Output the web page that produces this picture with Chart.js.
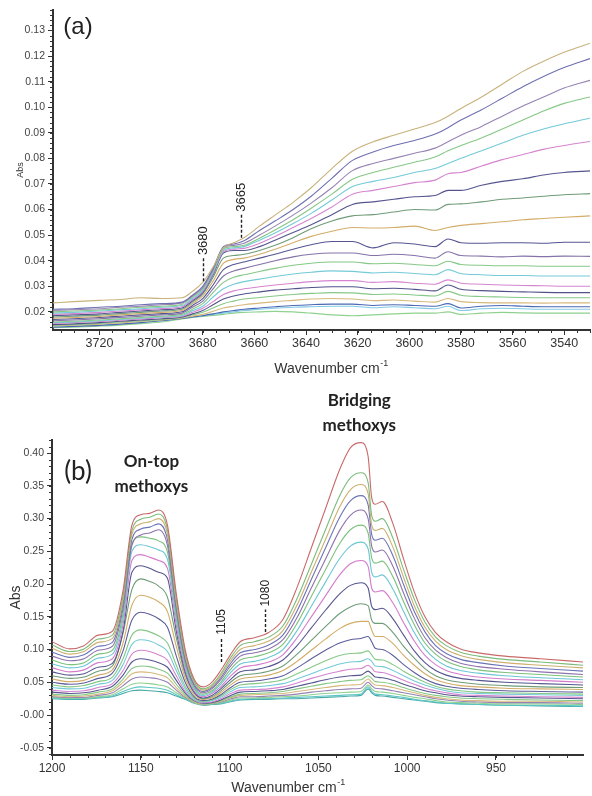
<!DOCTYPE html>
<html>
<head>
<meta charset="utf-8">
<title>IR spectra</title>
<script src="https://cdn.jsdelivr.net/npm/chart.js@4.4.1/dist/chart.umd.min.js"></script>
<style>
  body { margin: 0; background: #fff; }
  #wrap { position: relative; width: 592px; height: 796px; }
  canvas { position: absolute; left: 0; }
</style>
</head>
<body>
<div id="wrap">
  <canvas id="chartA" width="592" height="392" style="top:0"></canvas>
  <canvas id="chartB" width="592" height="404" style="top:392px"></canvas>
</div>
<script>
// ---- panel (a): OH stretching region ----
const waveA = [3738, 3730, 3720, 3712, 3704, 3696, 3688, 3684, 3680, 3676, 3672, 3668, 3664, 3658, 3652, 3645, 3638, 3630, 3622, 3614, 3606, 3598, 3590, 3585, 3580, 3572, 3564, 3556, 3548, 3540, 3530];
const ticksAX = [3720, 3700, 3680, 3660, 3640, 3620, 3600, 3580, 3560, 3540];
const ticksAY = [0.02, 0.03, 0.04, 0.05, 0.06, 0.07, 0.08, 0.09, 0.10, 0.11, 0.12, 0.13];

const a1 = [0.0235, 0.0240, 0.0245, 0.0248, 0.0255, 0.0252, 0.0255, 0.0280, 0.0315, 0.0375, 0.0450, 0.0470, 0.0490, 0.0535, 0.0578, 0.0628, 0.0685, 0.0760, 0.0828, 0.0865, 0.0890, 0.0915, 0.0940, 0.0965, 0.0995, 0.1040, 0.1090, 0.1140, 0.1180, 0.1215, 0.1250];
const a2 = [0.0210, 0.0212, 0.0218, 0.0222, 0.0228, 0.0232, 0.0238, 0.0265, 0.0300, 0.0370, 0.0455, 0.0465, 0.0478, 0.0518, 0.0555, 0.0600, 0.0652, 0.0722, 0.0792, 0.0825, 0.0850, 0.0870, 0.0895, 0.0920, 0.0950, 0.0990, 0.1035, 0.1080, 0.1120, 0.1155, 0.1190];
const a3 = [0.0205, 0.0208, 0.0212, 0.0218, 0.0222, 0.0228, 0.0235, 0.0262, 0.0295, 0.0365, 0.0450, 0.0460, 0.0468, 0.0500, 0.0535, 0.0578, 0.0625, 0.0685, 0.0752, 0.0780, 0.0800, 0.0820, 0.0840, 0.0865, 0.0890, 0.0925, 0.0965, 0.1005, 0.1040, 0.1075, 0.1105];
const a4 = [0.0200, 0.0203, 0.0207, 0.0212, 0.0218, 0.0222, 0.0230, 0.0258, 0.0290, 0.0360, 0.0445, 0.0455, 0.0460, 0.0488, 0.0520, 0.0560, 0.0605, 0.0660, 0.0718, 0.0745, 0.0765, 0.0785, 0.0805, 0.0830, 0.0850, 0.0880, 0.0915, 0.0950, 0.0985, 0.1015, 0.1040];
const a5 = [0.0195, 0.0198, 0.0203, 0.0208, 0.0212, 0.0218, 0.0225, 0.0252, 0.0285, 0.0355, 0.0440, 0.0450, 0.0455, 0.0480, 0.0508, 0.0545, 0.0585, 0.0637, 0.0690, 0.0710, 0.0725, 0.0745, 0.0760, 0.0780, 0.0800, 0.0830, 0.0860, 0.0890, 0.0915, 0.0935, 0.0957];
const a6 = [0.0190, 0.0193, 0.0198, 0.0203, 0.0208, 0.0213, 0.0220, 0.0248, 0.0280, 0.0350, 0.0435, 0.0445, 0.0448, 0.0468, 0.0495, 0.0530, 0.0565, 0.0610, 0.0660, 0.0675, 0.0690, 0.0705, 0.0715, 0.0740, 0.0745, 0.0770, 0.0795, 0.0815, 0.0835, 0.0850, 0.0866];
const a7 = [0.0185, 0.0188, 0.0192, 0.0198, 0.0203, 0.0208, 0.0215, 0.0243, 0.0275, 0.0345, 0.0430, 0.0440, 0.0440, 0.0455, 0.0480, 0.0510, 0.0540, 0.0580, 0.0620, 0.0630, 0.0640, 0.0650, 0.0655, 0.0675, 0.0675, 0.0695, 0.0710, 0.0720, 0.0735, 0.0745, 0.0751];
const a8 = [0.0180, 0.0183, 0.0187, 0.0193, 0.0198, 0.0203, 0.0210, 0.0238, 0.0270, 0.0335, 0.0410, 0.0420, 0.0425, 0.0440, 0.0460, 0.0490, 0.0525, 0.0555, 0.0575, 0.0580, 0.0590, 0.0600, 0.0598, 0.0620, 0.0622, 0.0630, 0.0640, 0.0645, 0.0652, 0.0658, 0.0662];
const a9 = [0.0175, 0.0178, 0.0182, 0.0188, 0.0193, 0.0198, 0.0205, 0.0232, 0.0262, 0.0320, 0.0390, 0.0405, 0.0410, 0.0425, 0.0445, 0.0470, 0.0495, 0.0515, 0.0530, 0.0528, 0.0530, 0.0535, 0.0518, 0.0530, 0.0538, 0.0545, 0.0552, 0.0560, 0.0565, 0.0570, 0.0575];
const a10 = [0.0170, 0.0173, 0.0178, 0.0183, 0.0188, 0.0193, 0.0200, 0.0225, 0.0252, 0.0305, 0.0365, 0.0385, 0.0395, 0.0410, 0.0425, 0.0445, 0.0462, 0.0475, 0.0475, 0.0450, 0.0470, 0.0465, 0.0455, 0.0485, 0.0470, 0.0468, 0.0470, 0.0470, 0.0468, 0.0472, 0.0472];
const a11 = [0.0165, 0.0168, 0.0173, 0.0178, 0.0183, 0.0188, 0.0195, 0.0218, 0.0242, 0.0290, 0.0340, 0.0360, 0.0370, 0.0385, 0.0400, 0.0415, 0.0425, 0.0430, 0.0430, 0.0420, 0.0425, 0.0420, 0.0410, 0.0435, 0.0420, 0.0418, 0.0415, 0.0418, 0.0416, 0.0418, 0.0417];
const a12 = [0.0160, 0.0163, 0.0168, 0.0173, 0.0178, 0.0183, 0.0190, 0.0210, 0.0232, 0.0275, 0.0315, 0.0335, 0.0345, 0.0358, 0.0370, 0.0382, 0.0390, 0.0395, 0.0395, 0.0388, 0.0390, 0.0385, 0.0380, 0.0398, 0.0385, 0.0382, 0.0380, 0.0380, 0.0378, 0.0378, 0.0378];
const a13 = [0.0158, 0.0160, 0.0165, 0.0170, 0.0175, 0.0180, 0.0186, 0.0204, 0.0222, 0.0258, 0.0290, 0.0308, 0.0318, 0.0328, 0.0338, 0.0348, 0.0355, 0.0360, 0.0358, 0.0352, 0.0355, 0.0350, 0.0345, 0.0365, 0.0350, 0.0345, 0.0342, 0.0342, 0.0340, 0.0340, 0.0340];
const a14 = [0.0155, 0.0158, 0.0162, 0.0167, 0.0172, 0.0177, 0.0183, 0.0198, 0.0214, 0.0240, 0.0268, 0.0282, 0.0290, 0.0298, 0.0305, 0.0312, 0.0318, 0.0322, 0.0322, 0.0315, 0.0318, 0.0312, 0.0308, 0.0325, 0.0312, 0.0308, 0.0305, 0.0303, 0.0302, 0.0300, 0.0300];
const a15 = [0.0150, 0.0153, 0.0158, 0.0163, 0.0168, 0.0173, 0.0180, 0.0192, 0.0205, 0.0228, 0.0250, 0.0262, 0.0270, 0.0278, 0.0285, 0.0290, 0.0295, 0.0298, 0.0298, 0.0290, 0.0292, 0.0288, 0.0282, 0.0305, 0.0288, 0.0283, 0.0280, 0.0278, 0.0276, 0.0275, 0.0275];
const a16 = [0.0148, 0.0150, 0.0155, 0.0160, 0.0165, 0.0170, 0.0178, 0.0188, 0.0198, 0.0215, 0.0232, 0.0242, 0.0250, 0.0256, 0.0262, 0.0268, 0.0272, 0.0275, 0.0274, 0.0268, 0.0270, 0.0266, 0.0262, 0.0280, 0.0265, 0.0260, 0.0258, 0.0256, 0.0255, 0.0255, 0.0255];
const a17 = [0.0145, 0.0148, 0.0152, 0.0157, 0.0162, 0.0168, 0.0176, 0.0183, 0.0190, 0.0202, 0.0215, 0.0222, 0.0228, 0.0234, 0.0240, 0.0245, 0.0250, 0.0252, 0.0250, 0.0244, 0.0246, 0.0242, 0.0238, 0.0252, 0.0240, 0.0236, 0.0235, 0.0235, 0.0234, 0.0235, 0.0235];
const a18 = [0.0140, 0.0143, 0.0147, 0.0152, 0.0158, 0.0165, 0.0174, 0.0180, 0.0185, 0.0192, 0.0200, 0.0205, 0.0210, 0.0215, 0.0220, 0.0225, 0.0228, 0.0230, 0.0230, 0.0225, 0.0228, 0.0225, 0.0222, 0.0232, 0.0215, 0.0222, 0.0225, 0.0222, 0.0220, 0.0220, 0.0220];
const a19 = [0.0142, 0.0145, 0.0148, 0.0153, 0.0158, 0.0165, 0.0175, 0.0180, 0.0185, 0.0190, 0.0195, 0.0200, 0.0205, 0.0210, 0.0214, 0.0218, 0.0220, 0.0222, 0.0222, 0.0216, 0.0220, 0.0216, 0.0212, 0.0222, 0.0205, 0.0212, 0.0214, 0.0212, 0.0210, 0.0210, 0.0210];
const a20 = [0.0138, 0.0140, 0.0144, 0.0148, 0.0154, 0.0160, 0.0172, 0.0178, 0.0182, 0.0186, 0.0190, 0.0195, 0.0198, 0.0200, 0.0202, 0.0200, 0.0195, 0.0188, 0.0185, 0.0188, 0.0192, 0.0195, 0.0195, 0.0200, 0.0190, 0.0195, 0.0198, 0.0196, 0.0195, 0.0195, 0.0195];

const spectraA = [a1, a2, a3, a4, a5, a6, a7, a8, a9, a10, a11, a12, a13, a14, a15, a16, a17, a18, a19, a20];
const colorsA = ['#c8b27a', '#6f6fb2', '#9683b3', '#86c886', '#74cad8', '#d585cf', '#55558f', '#6f9c78', '#d3ad68', '#555593',
                 '#8472a8', '#86c886', '#74cad8', '#d585cf', '#52528a', '#86c886', '#d6b97c', '#4a68b5', '#84cbe3', '#8fd18f'];
const peaksA = [3680, 3665];

// ---- panel (b): C-O stretching region ----
const waveB = [1200, 1190, 1182, 1174, 1166, 1160, 1155, 1150, 1145, 1140, 1135, 1130, 1125, 1120, 1115, 1110, 1105, 1100, 1094, 1086, 1078, 1070, 1062, 1054, 1046, 1038, 1032, 1026, 1022, 1020, 1018, 1014, 1008, 1002, 996, 990, 984, 978, 970, 960, 945, 925, 901];
const ticksBX = [1200, 1150, 1100, 1050, 1000, 950];
const ticksBY = [-0.05, 0, 0.05, 0.10, 0.15, 0.20, 0.25, 0.30, 0.35, 0.40];

const b1 = [0.112, 0.101, 0.106, 0.122, 0.128, 0.190, 0.290, 0.306, 0.308, 0.313, 0.290, 0.185, 0.100, 0.055, 0.043, 0.050, 0.068, 0.090, 0.112, 0.118, 0.126, 0.146, 0.195, 0.255, 0.315, 0.375, 0.408, 0.416, 0.395, 0.332, 0.322, 0.326, 0.292, 0.238, 0.188, 0.150, 0.126, 0.112, 0.101, 0.095, 0.090, 0.086, 0.081];
const b2 = [0.107, 0.097, 0.101, 0.116, 0.122, 0.182, 0.282, 0.299, 0.302, 0.307, 0.283, 0.178, 0.095, 0.052, 0.040, 0.046, 0.063, 0.085, 0.106, 0.112, 0.119, 0.136, 0.178, 0.230, 0.283, 0.335, 0.362, 0.370, 0.355, 0.305, 0.296, 0.300, 0.270, 0.222, 0.177, 0.142, 0.119, 0.106, 0.096, 0.090, 0.085, 0.081, 0.076];
const b3 = [0.102, 0.093, 0.097, 0.111, 0.117, 0.176, 0.276, 0.292, 0.295, 0.300, 0.276, 0.172, 0.091, 0.050, 0.038, 0.044, 0.060, 0.081, 0.100, 0.106, 0.113, 0.129, 0.168, 0.218, 0.268, 0.318, 0.344, 0.352, 0.338, 0.290, 0.282, 0.285, 0.256, 0.210, 0.167, 0.134, 0.113, 0.100, 0.091, 0.085, 0.080, 0.076, 0.072];
const b4 = [0.096, 0.088, 0.092, 0.105, 0.111, 0.170, 0.268, 0.284, 0.287, 0.292, 0.268, 0.166, 0.087, 0.047, 0.036, 0.042, 0.057, 0.077, 0.095, 0.100, 0.107, 0.122, 0.159, 0.207, 0.255, 0.302, 0.327, 0.335, 0.321, 0.276, 0.267, 0.270, 0.243, 0.199, 0.158, 0.127, 0.106, 0.094, 0.085, 0.080, 0.075, 0.071, 0.067];
const b5 = [0.090, 0.083, 0.086, 0.099, 0.105, 0.163, 0.259, 0.275, 0.278, 0.283, 0.259, 0.160, 0.083, 0.045, 0.034, 0.040, 0.054, 0.073, 0.090, 0.095, 0.101, 0.115, 0.149, 0.194, 0.238, 0.282, 0.305, 0.313, 0.300, 0.258, 0.249, 0.252, 0.227, 0.186, 0.148, 0.118, 0.099, 0.088, 0.079, 0.074, 0.070, 0.066, 0.062];
const b6 = [0.084, 0.077, 0.080, 0.093, 0.099, 0.155, 0.262, 0.272, 0.270, 0.266, 0.249, 0.153, 0.079, 0.042, 0.032, 0.037, 0.050, 0.068, 0.084, 0.089, 0.095, 0.108, 0.140, 0.181, 0.222, 0.262, 0.283, 0.290, 0.278, 0.240, 0.232, 0.235, 0.211, 0.173, 0.138, 0.110, 0.093, 0.082, 0.074, 0.069, 0.065, 0.062, 0.058];
const b7 = [0.078, 0.072, 0.075, 0.087, 0.093, 0.147, 0.250, 0.260, 0.257, 0.252, 0.238, 0.146, 0.075, 0.040, 0.030, 0.035, 0.047, 0.063, 0.078, 0.082, 0.088, 0.100, 0.129, 0.166, 0.203, 0.239, 0.258, 0.264, 0.254, 0.218, 0.211, 0.214, 0.192, 0.158, 0.126, 0.101, 0.085, 0.075, 0.068, 0.064, 0.060, 0.057, 0.054];
const b8 = [0.072, 0.066, 0.069, 0.080, 0.086, 0.138, 0.236, 0.245, 0.241, 0.236, 0.224, 0.137, 0.070, 0.037, 0.028, 0.033, 0.043, 0.058, 0.072, 0.076, 0.081, 0.092, 0.118, 0.150, 0.182, 0.214, 0.231, 0.236, 0.227, 0.194, 0.188, 0.190, 0.171, 0.141, 0.113, 0.091, 0.077, 0.068, 0.062, 0.058, 0.055, 0.053, 0.050];
const b9 = [0.066, 0.061, 0.063, 0.073, 0.079, 0.128, 0.218, 0.228, 0.224, 0.218, 0.209, 0.128, 0.066, 0.035, 0.026, 0.030, 0.040, 0.053, 0.066, 0.069, 0.074, 0.084, 0.106, 0.133, 0.160, 0.185, 0.198, 0.202, 0.194, 0.166, 0.161, 0.163, 0.147, 0.122, 0.098, 0.080, 0.068, 0.061, 0.056, 0.053, 0.050, 0.048, 0.046];
const b10 = [0.060, 0.056, 0.058, 0.067, 0.075, 0.125, 0.192, 0.208, 0.204, 0.197, 0.180, 0.118, 0.062, 0.034, 0.025, 0.028, 0.037, 0.049, 0.060, 0.063, 0.067, 0.075, 0.093, 0.114, 0.135, 0.155, 0.165, 0.170, 0.167, 0.145, 0.140, 0.140, 0.126, 0.105, 0.087, 0.071, 0.060, 0.054, 0.050, 0.047, 0.045, 0.043, 0.042];
const b11 = [0.055, 0.051, 0.053, 0.061, 0.069, 0.110, 0.168, 0.183, 0.180, 0.173, 0.158, 0.105, 0.056, 0.031, 0.024, 0.026, 0.034, 0.045, 0.055, 0.058, 0.061, 0.068, 0.082, 0.099, 0.116, 0.132, 0.140, 0.143, 0.143, 0.130, 0.120, 0.120, 0.109, 0.091, 0.076, 0.063, 0.054, 0.049, 0.045, 0.043, 0.041, 0.040, 0.039];
const b12 = [0.050, 0.047, 0.049, 0.056, 0.064, 0.098, 0.145, 0.157, 0.154, 0.147, 0.134, 0.090, 0.050, 0.028, 0.022, 0.024, 0.031, 0.041, 0.050, 0.052, 0.055, 0.060, 0.072, 0.086, 0.099, 0.110, 0.115, 0.117, 0.120, 0.112, 0.102, 0.100, 0.091, 0.077, 0.065, 0.055, 0.048, 0.044, 0.041, 0.039, 0.037, 0.036, 0.035];
const b13 = [0.046, 0.043, 0.045, 0.051, 0.058, 0.086, 0.122, 0.130, 0.127, 0.121, 0.110, 0.076, 0.044, 0.026, 0.021, 0.023, 0.029, 0.038, 0.046, 0.048, 0.050, 0.054, 0.063, 0.073, 0.083, 0.091, 0.094, 0.095, 0.098, 0.092, 0.085, 0.084, 0.077, 0.067, 0.058, 0.050, 0.044, 0.040, 0.037, 0.035, 0.034, 0.033, 0.032];
const b14 = [0.042, 0.040, 0.041, 0.047, 0.053, 0.077, 0.108, 0.115, 0.113, 0.107, 0.097, 0.068, 0.040, 0.024, 0.020, 0.022, 0.027, 0.035, 0.042, 0.043, 0.045, 0.048, 0.055, 0.063, 0.071, 0.078, 0.081, 0.082, 0.086, 0.082, 0.075, 0.074, 0.068, 0.060, 0.052, 0.046, 0.041, 0.037, 0.034, 0.033, 0.032, 0.031, 0.030];
const b15 = [0.038, 0.036, 0.037, 0.042, 0.048, 0.068, 0.093, 0.099, 0.097, 0.092, 0.084, 0.060, 0.036, 0.023, 0.019, 0.020, 0.025, 0.032, 0.038, 0.039, 0.040, 0.043, 0.049, 0.056, 0.062, 0.067, 0.070, 0.071, 0.076, 0.072, 0.066, 0.065, 0.060, 0.053, 0.047, 0.041, 0.037, 0.034, 0.031, 0.030, 0.029, 0.028, 0.027];
const b16 = [0.035, 0.033, 0.034, 0.038, 0.044, 0.061, 0.081, 0.086, 0.084, 0.080, 0.073, 0.053, 0.034, 0.022, 0.018, 0.019, 0.023, 0.029, 0.035, 0.036, 0.037, 0.039, 0.044, 0.049, 0.054, 0.058, 0.060, 0.061, 0.067, 0.063, 0.058, 0.057, 0.053, 0.047, 0.042, 0.037, 0.034, 0.031, 0.029, 0.028, 0.027, 0.026, 0.025];
const b17 = [0.032, 0.030, 0.031, 0.035, 0.040, 0.055, 0.071, 0.075, 0.074, 0.070, 0.064, 0.047, 0.031, 0.021, 0.018, 0.019, 0.022, 0.027, 0.032, 0.033, 0.034, 0.036, 0.040, 0.044, 0.048, 0.051, 0.053, 0.054, 0.060, 0.056, 0.051, 0.050, 0.047, 0.042, 0.037, 0.033, 0.030, 0.028, 0.026, 0.025, 0.024, 0.023, 0.022];
const b18 = [0.030, 0.028, 0.029, 0.032, 0.037, 0.050, 0.063, 0.066, 0.065, 0.062, 0.057, 0.042, 0.029, 0.020, 0.017, 0.018, 0.021, 0.026, 0.030, 0.031, 0.032, 0.033, 0.036, 0.039, 0.042, 0.045, 0.046, 0.047, 0.055, 0.050, 0.046, 0.045, 0.042, 0.038, 0.034, 0.030, 0.027, 0.025, 0.023, 0.022, 0.021, 0.021, 0.020];
const b19 = [0.028, 0.027, 0.027, 0.030, 0.034, 0.045, 0.055, 0.058, 0.057, 0.055, 0.050, 0.038, 0.027, 0.020, 0.017, 0.018, 0.020, 0.024, 0.028, 0.028, 0.029, 0.030, 0.032, 0.035, 0.037, 0.039, 0.040, 0.041, 0.050, 0.045, 0.041, 0.040, 0.037, 0.034, 0.031, 0.028, 0.025, 0.023, 0.021, 0.020, 0.019, 0.019, 0.018];
const b20 = [0.027, 0.026, 0.026, 0.028, 0.031, 0.040, 0.047, 0.049, 0.048, 0.046, 0.043, 0.034, 0.026, 0.019, 0.016, 0.017, 0.019, 0.022, 0.026, 0.026, 0.027, 0.028, 0.029, 0.031, 0.033, 0.034, 0.035, 0.036, 0.046, 0.040, 0.036, 0.035, 0.033, 0.030, 0.027, 0.025, 0.022, 0.020, 0.019, 0.018, 0.017, 0.017, 0.016];
const b21 = [0.026, 0.025, 0.025, 0.027, 0.029, 0.036, 0.041, 0.043, 0.042, 0.041, 0.038, 0.031, 0.025, 0.019, 0.016, 0.017, 0.018, 0.021, 0.024, 0.025, 0.025, 0.026, 0.027, 0.028, 0.029, 0.030, 0.031, 0.032, 0.043, 0.036, 0.032, 0.031, 0.029, 0.027, 0.024, 0.022, 0.020, 0.018, 0.017, 0.016, 0.015, 0.015, 0.014];
const b22 = [0.025, 0.024, 0.024, 0.026, 0.028, 0.033, 0.037, 0.038, 0.037, 0.036, 0.034, 0.029, 0.024, 0.018, 0.015, 0.016, 0.017, 0.020, 0.023, 0.024, 0.024, 0.025, 0.025, 0.026, 0.027, 0.028, 0.029, 0.030, 0.040, 0.034, 0.030, 0.029, 0.027, 0.025, 0.023, 0.021, 0.019, 0.018, 0.017, 0.016, 0.015, 0.014, 0.013];

const spectraB = [b1, b2, b3, b4, b5, b6, b7, b8, b9, b10, b11, b12, b13, b14, b15, b16, b17, b18, b19, b20, b21, b22];
const colorsB = ['#c96a6a', '#7dbb7d', '#cdb070', '#6b74b8', '#8f72ad', '#7cc27c', '#6cc6d4', '#d47ccc', '#55558f', '#6f9c78', '#d3ad68',
                 '#5d5d9c', '#86c886', '#74cad8', '#d585cf', '#55558f', '#86c886', '#d6b97c', '#9683b3', '#8fd18f', '#5cc6c6', '#48a8a8'];
const peaksB = [1105, 1080];

const SANS = '"Liberation Sans", Arial, sans-serif';
const AXIS = '#333';

function toDatasets(waves, spectra, colors) {
  return spectra.map((ys, i) => ({
    data: waves.map((w, j) => ({ x: w, y: ys[j] })),
    borderColor: colors[i],
    borderWidth: 1.1,
    pointRadius: 0,
    cubicInterpolationMode: 'monotone',
    fill: false
  }));
}

// small unlabelled ticks between the numbered ones
const minorTicks = {
  id: 'minorTicks',
  afterDraw(chart, args, opts) {
    const { ctx, chartArea, scales: { x, y } } = chart;
    ctx.save();
    ctx.strokeStyle = AXIS;
    ctx.lineWidth = 1;
    ctx.beginPath();
    const nx = Math.round((x.max - x.min) / opts.xStep);
    const x0 = Math.ceil(x.min / opts.xStep) * opts.xStep;
    for (let i = 0; i <= nx; i++) {
      const v = x0 + i * opts.xStep;
      if (v > x.max) break;
      const px = Math.round(x.getPixelForValue(v)) + 0.5;
      ctx.moveTo(px, chartArea.bottom);
      ctx.lineTo(px, chartArea.bottom + 3);
    }
    const ny = Math.round((y.max - y.min) / opts.yStep);
    const y0 = Math.ceil(y.min / opts.yStep) * opts.yStep;
    for (let i = 0; i <= ny; i++) {
      const v = y0 + i * opts.yStep;
      if (v > y.max) break;
      const py = Math.round(y.getPixelForValue(v)) + 0.5;
      ctx.moveTo(chartArea.left, py);
      ctx.lineTo(chartArea.left - 3, py);
    }
    ctx.stroke();
    ctx.restore();
  }
};

// panel letter, band names, dashed peak markers and the x-axis title
const notes = {
  id: 'notes',
  afterDraw(chart, args, opts) {
    const { ctx, scales: { x, y } } = chart;
    ctx.save();
    ctx.fillStyle = '#222';
    ctx.textAlign = 'center';
    ctx.textBaseline = 'middle';
    ctx.font = opts.letterFont;
    ctx.fillText(opts.letter, opts.letterPos[0], opts.letterPos[1]);

    (opts.bands || []).forEach(b => {
      ctx.font = opts.bandFont;
      b.lines.forEach((t, i) => ctx.fillText(t, x.getPixelForValue(b.at), b.top + i * 25));
    });

    opts.marks.forEach(m => {
      const px = Math.round(x.getPixelForValue(m.at)) + 0.5;
      const yLow = y.getPixelForValue(m.from);
      const yHigh = y.getPixelForValue(m.to);
      ctx.strokeStyle = '#222';
      ctx.lineWidth = 1.4;
      ctx.setLineDash([3, 2]);
      ctx.beginPath();
      ctx.moveTo(px, yLow);
      ctx.lineTo(px, yHigh);
      ctx.stroke();
      ctx.setLineDash([]);
      ctx.save();
      ctx.translate(px, yHigh - 3);
      ctx.rotate(-Math.PI / 2);
      ctx.textAlign = 'left';
      ctx.font = opts.markFont;
      ctx.fillText(String(m.at), 0, 0);
      ctx.restore();
    });

    // "Wavenumber cm-1" with a raised exponent
    const main = 'Wavenumber cm', sup = '-1';
    ctx.font = '14px ' + SANS;
    const w1 = ctx.measureText(main).width;
    ctx.font = '9px ' + SANS;
    const w2 = ctx.measureText(sup).width;
    const start = opts.titlePos[0] - (w1 + w2) / 2;
    ctx.fillStyle = AXIS;
    ctx.textAlign = 'left';
    ctx.font = '14px ' + SANS;
    ctx.fillText(main, start, opts.titlePos[1]);
    ctx.font = '9px ' + SANS;
    ctx.fillText(sup, start + w1 + 0.5, opts.titlePos[1] - 5);
    ctx.restore();
  }
};

function axisX(min, max, tickList, height, size) {
  return {
    type: 'linear', reverse: true, min: min, max: max,
    afterFit: s => { s.height = height; },
    afterBuildTicks: s => { s.ticks = tickList.map(v => ({ value: v })); },
    border: { color: AXIS, width: 2 },
    grid: { drawOnChartArea: false, tickLength: 5, tickColor: AXIS },
    ticks: { autoSkip: false, maxRotation: 0, padding: 1, color: AXIS,
             font: { family: SANS, size: size }, callback: v => String(v) }
  };
}

function axisY(min, max, tickList, width, size, titleSize, titlePad, fmt) {
  return {
    min: min, max: max,
    afterFit: s => { s.width = width; },
    afterBuildTicks: s => { s.ticks = tickList.map(v => ({ value: v })); },
    border: { color: AXIS, width: 2 },
    grid: { drawOnChartArea: false, tickLength: 5, tickColor: AXIS },
    ticks: { autoSkip: false, padding: 3, color: '#444',
             font: { family: SANS, size: size }, callback: fmt },
    title: { display: true, text: 'Abs', color: AXIS, padding: { top: titlePad, bottom: 0 },
             font: { family: SANS, size: titleSize } }
  };
}

new Chart(document.getElementById('chartA'), {
  type: 'line',
  data: { datasets: toDatasets(waveA, spectraA, colorsA) },
  options: {
    responsive: false,
    animation: false,
    layout: { padding: { top: 10, right: 2, left: 0, bottom: 0 } },
    scales: {
      x: axisX(3530, 3738, ticksAX, 62, 12.5),
      y: axisY(0.0129, 0.138, ticksAY, 53, 10.5, 9, 15, v => v.toFixed(2))
    },
    plugins: {
      legend: { display: false },
      tooltip: { enabled: false },
      minorTicks: { xStep: 5, yStep: 0.002 },
      notes: {
        letter: '(a)', letterFont: '24px ' + SANS, letterPos: [78, 27],
        markFont: '13px ' + SANS,
        marks: [
          { at: peaksA[0], from: 0.0320, to: 0.0410 },
          { at: peaksA[1], from: 0.0490, to: 0.0580 }
        ],
        titlePos: [331, 369]
      }
    }
  },
  plugins: [minorTicks, notes]
});

new Chart(document.getElementById('chartB'), {
  type: 'line',
  data: { datasets: toDatasets(waveB, spectraB, colorsB) },
  options: {
    responsive: false,
    animation: false,
    layout: { padding: { top: 48, right: 9, left: 0, bottom: 0 } },
    scales: {
      x: axisX(901, 1200, ticksBX, 41, 12),
      y: axisY(-0.061, 0.42, ticksBY, 52, 10.5, 14, 8, v => Math.abs(v) < 1e-9 ? '-0.00' : v.toFixed(2))
    },
    plugins: {
      legend: { display: false },
      tooltip: { enabled: false },
      minorTicks: { xStep: 10, yStep: 0.01 },
      notes: {
        letter: '(b)', letterFont: '26px Lato, ' + SANS, letterPos: [78, 80],
        bandFont: 'bold 17px Lato, ' + SANS,
        bands: [
          { at: 1144, top: 70, lines: ['On-top', 'methoxys'] },
          { at: 1027, top: 9, lines: ['Bridging', 'methoxys'] }
        ],
        markFont: '12px ' + SANS,
        marks: [
          { at: peaksB[0], from: 0.081, to: 0.118 },
          { at: peaksB[1], from: 0.127, to: 0.161 }
        ],
        titlePos: [288, 396]
      }
    }
  },
  plugins: [minorTicks, notes]
});
</script>
</body>
</html>
